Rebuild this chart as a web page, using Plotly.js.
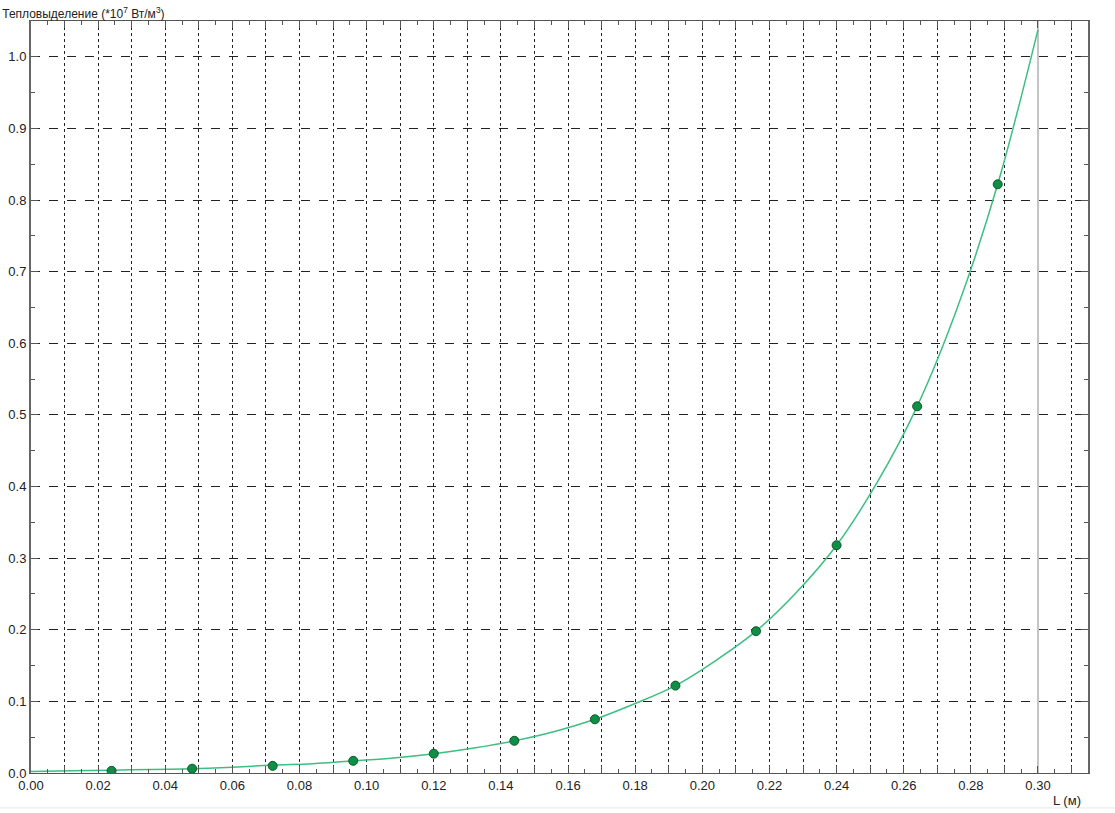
<!DOCTYPE html>
<html>
<head>
<meta charset="utf-8">
<script src="https://cdn.plot.ly/plotly-3.0.1.min.js"></script>
<style>html,body{margin:0;padding:0;background:#fff;}#chart{width:1115px;height:813px;}</style>
</head>
<body>
<div id="chart"></div>
<script>
// Data points (markers)
const pointX = [0.024, 0.048, 0.072, 0.096, 0.120, 0.144, 0.168, 0.192, 0.216, 0.240, 0.264, 0.288];
const pointY = [0.003, 0.006, 0.010, 0.017, 0.027, 0.045, 0.075, 0.122, 0.198, 0.318, 0.512, 0.822];
// Curve
const curveX = [0.000, 0.012, 0.024, 0.036, 0.048, 0.060, 0.072, 0.084, 0.096, 0.108, 0.120, 0.132, 0.144, 0.156, 0.168, 0.180, 0.192, 0.204, 0.216, 0.228, 0.240, 0.252, 0.264, 0.276, 0.288, 0.300];
const curveY = [0.002, 0.003, 0.004, 0.005, 0.006, 0.008, 0.011, 0.013, 0.017, 0.021, 0.027, 0.035, 0.045, 0.058, 0.075, 0.097, 0.122, 0.157, 0.198, 0.252, 0.318, 0.405, 0.512, 0.650, 0.822, 1.038];
// Vertical reference line
const refLineX = [0.30, 0.30];
const refLineY = [0, 1.05];
// Tick labels
const xTickVals = [0.00,0.02,0.04,0.06,0.08,0.10,0.12,0.14,0.16,0.18,0.20,0.22,0.24,0.26,0.28,0.30];
const xTickText = ["0.00","0.02","0.04","0.06","0.08","0.10","0.12","0.14","0.16","0.18","0.20","0.22","0.24","0.26","0.28","0.30"];
const yTickVals = [0.0,0.1,0.2,0.3,0.4,0.5,0.6,0.7,0.8,0.9,1.0];
const yTickText = ["0.0","0.1","0.2","0.3","0.4","0.5","0.6","0.7","0.8","0.9","1.0"];

const FAM = "Liberation Sans, Arial, sans-serif";
const font = {family: FAM, size: 13, color: "#222"};

const traces = [
  {x: refLineX, y: refLineY, mode: "lines", line: {color: "#c4c4c4", width: 2}, hoverinfo: "skip", showlegend: false},
  {x: curveX, y: curveY, mode: "lines", line: {color: "#3dbf80", width: 1.5, shape: "spline", smoothing: 1}, showlegend: false},
  {x: pointX, y: pointY, mode: "markers", marker: {color: "#0d8f45", size: 9, line: {color: "#0a5a2a", width: 1}}, showlegend: false},
  // invisible trace to activate the secondary x axis (fine ticks)
  {x: refLineX, y: refLineY, xaxis: "x2", mode: "lines", line: {width: 0}, opacity: 0, hoverinfo: "skip", showlegend: false}
];

const layout = {
  width: 1115, height: 813,
  margin: {l: 31, r: 27, t: 21, b: 40},
  paper_bgcolor: "#fff", plot_bgcolor: "#fff",
  font: font,
  showlegend: false,
  title: {text: "Тепловыделение (*10<sup>7</sup> Вт/м<sup>3</sup>)", font: {family: FAM, size: 12, color: "#222"}, xref: "container", yref: "container", x: 0.002, xanchor: "left", y: 0.983, yanchor: "middle"},
  xaxis: {
    range: [0, 0.3149], tickmode: "array", tickvals: xTickVals, ticktext: xTickText,
    showgrid: true, gridcolor: "#222", griddash: "dot", gridwidth: 1,
    zeroline: false, showline: true, linecolor: "#555", linewidth: 1, mirror: "ticks",
    ticks: "inside", ticklen: 7, tickcolor: "#555", tickwidth: 1,
    minor: {dtick: 0.01, tick0: 0, ticks: "inside", ticklen: 7, tickcolor: "#555", showgrid: true, gridcolor: "#222", griddash: "dot", gridwidth: 1},
    tickfont: font
  },
  xaxis2: {
    range: [0, 0.3149], overlaying: "x", side: "bottom", tick0: 0.005, dtick: 0.01,
    showgrid: false, zeroline: false, showline: false, showticklabels: false, mirror: "ticks",
    ticks: "inside", ticklen: 4, tickcolor: "#555", tickwidth: 1
  },
  yaxis: {
    range: [0, 1.05], tickmode: "array", tickvals: yTickVals, ticktext: yTickText,
    showgrid: true, gridcolor: "#222", griddash: "dash", gridwidth: 1,
    zeroline: false, showline: true, linecolor: "#666", linewidth: 2, mirror: "ticks",
    ticks: "inside", ticklen: 7, tickcolor: "#555", tickwidth: 1,
    minor: {dtick: 0.05, tick0: 0, ticks: "inside", ticklen: 4, tickcolor: "#555", showgrid: false},
    tickfont: font
  },
  annotations: [
    {text: "L (м)", xref: "paper", yref: "paper", x: 0.995, y: -0.036, xanchor: "right", yanchor: "middle", showarrow: false, font: font}
  ],
  shapes: [
    {type: "line", xref: "paper", yref: "paper", x0: -0.1, x1: 1.1, y0: -0.0465, y1: -0.0465, line: {color: "#e6e6e6", width: 1}}
  ]
};

Plotly.newPlot("chart", traces, layout, {displayModeBar: false, staticPlot: true});
</script>
</body>
</html>
